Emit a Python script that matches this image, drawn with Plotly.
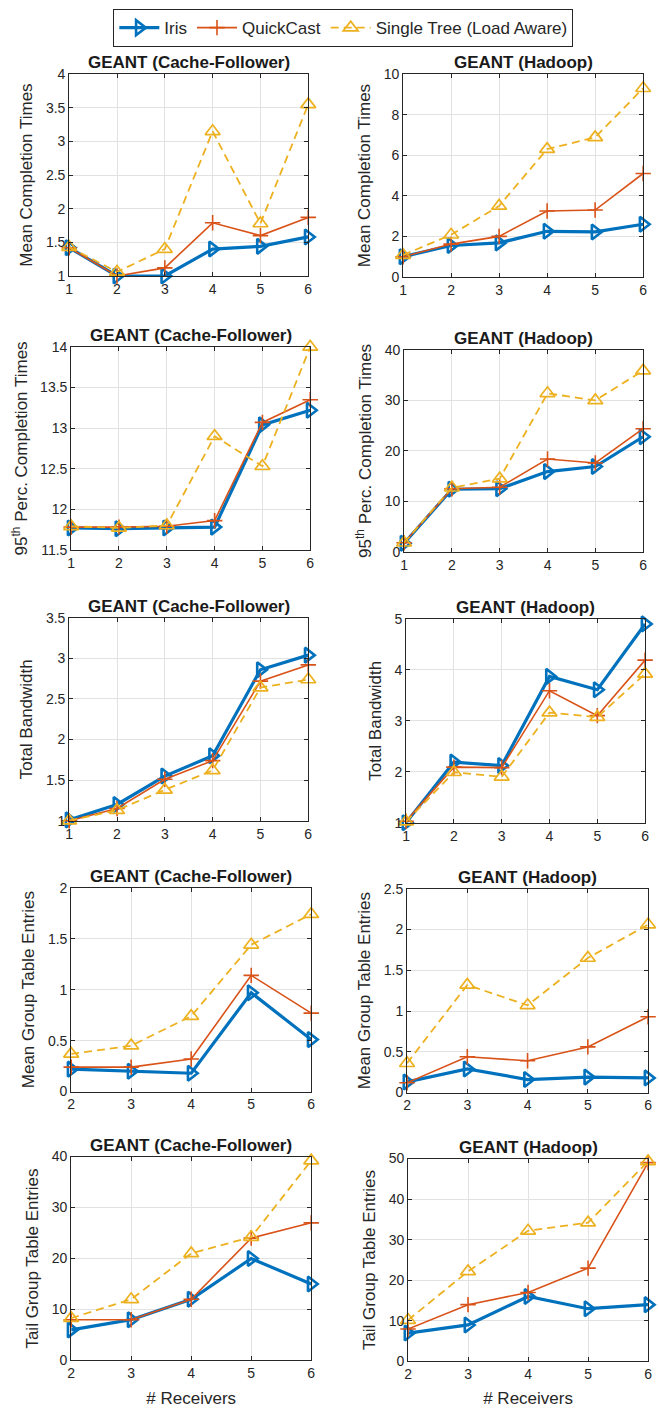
import plotly.graph_objects as go

W, H = 659, 1408

series_names = ["Iris", "QuickCast", "Single Tree (Load Aware)"]

x_rows_123 = [1, 2, 3, 4, 5, 6]
x_rows_45 = [2, 3, 4, 5, 6]

titles = ["GEANT (Cache-Follower)", "GEANT (Hadoop)"]

# Row 1: Mean Completion Times
mct_cf_iris = [1.42, 1.00, 1.00, 1.40, 1.44, 1.58]
mct_cf_qc = [1.42, 1.00, 1.12, 1.79, 1.60, 1.87]
mct_cf_st = [1.43, 1.06, 1.40, 3.15, 1.78, 3.55]
mct_hd_iris = [1.00, 1.55, 1.68, 2.25, 2.22, 2.60]
mct_hd_qc = [1.00, 1.62, 2.00, 3.25, 3.30, 5.10]
mct_hd_st = [1.08, 2.08, 3.50, 6.30, 6.88, 9.30]

# Row 2: 95th Perc. Completion Times
p95_cf_iris = [11.77, 11.76, 11.77, 11.78, 13.04, 13.22]
p95_cf_qc = [11.78, 11.78, 11.79, 11.86, 13.07, 13.35]
p95_cf_st = [11.79, 11.77, 11.80, 12.90, 12.53, 14.00]
p95_hd_iris = [1.7, 12.4, 12.5, 15.9, 16.9, 22.8]
p95_hd_qc = [1.8, 12.5, 12.8, 18.4, 17.6, 24.4]
p95_hd_st = [1.8, 12.7, 14.5, 31.4, 30.0, 35.9]

# Row 3: Total Bandwidth
bw_cf_iris = [1.01, 1.20, 1.55, 1.80, 2.86, 3.04]
bw_cf_qc = [1.00, 1.15, 1.51, 1.74, 2.72, 2.92]
bw_cf_st = [1.00, 1.13, 1.38, 1.62, 2.64, 2.74]
bw_hd_iris = [1.00, 2.19, 2.12, 3.87, 3.61, 4.90]
bw_hd_qc = [1.03, 2.09, 2.08, 3.59, 3.10, 4.19]
bw_hd_st = [1.02, 1.99, 1.90, 3.16, 3.07, 3.92]

# Row 4: Mean Group Table Entries
mg_cf_iris = [0.22, 0.20, 0.18, 0.97, 0.51]
mg_cf_qc = [0.24, 0.24, 0.32, 1.14, 0.77]
mg_cf_st = [0.37, 0.45, 0.74, 1.44, 1.74]
mg_hd_iris = [0.13, 0.29, 0.16, 0.19, 0.18]
mg_hd_qc = [0.12, 0.44, 0.39, 0.56, 0.93]
mg_hd_st = [0.36, 1.32, 1.07, 1.65, 2.06]

# Row 5: Tail Group Table Entries
tg_cf_iris = [6, 8, 12, 20, 15]
tg_cf_qc = [8, 8, 12, 24, 27]
tg_cf_st = [8.3, 12, 21, 24.2, 39.2]
tg_hd_iris = [7, 9, 16, 13, 14]
tg_hd_qc = [8, 14, 17, 23, 49]
tg_hd_st = [10.2, 22.2, 32.2, 34.2, 49.3]

y_titles = ["Mean Completion Times",
            "95<sup>th</sup> Perc. Completion Times",
            "Total Bandwidth",
            "Mean Group Table Entries",
            "Tail Group Table Entries"]

y_ranges = [([1, 4], 0.5, [0, 10], 2),
            ([11.5, 14], 0.5, [0, 40], 10),
            ([1, 3.5], 0.5, [1, 5], 1),
            ([0, 2], 0.5, [0, 2.5], 0.5),
            ([0, 40], 10, [0, 50], 10)]

rows = [
    (x_rows_123, (mct_cf_iris, mct_cf_qc, mct_cf_st), (mct_hd_iris, mct_hd_qc, mct_hd_st)),
    (x_rows_123, (p95_cf_iris, p95_cf_qc, p95_cf_st), (p95_hd_iris, p95_hd_qc, p95_hd_st)),
    (x_rows_123, (bw_cf_iris, bw_cf_qc, bw_cf_st), (bw_hd_iris, bw_hd_qc, bw_hd_st)),
    (x_rows_45, (mg_cf_iris, mg_cf_qc, mg_cf_st), (mg_hd_iris, mg_hd_qc, mg_hd_st)),
    (x_rows_45, (tg_cf_iris, tg_cf_qc, tg_cf_st), (tg_hd_iris, tg_hd_qc, tg_hd_st)),
]

# target pixel boxes (left, right, top, bottom) per subplot
boxes = [
    [(66, 308, 74, 276), (404, 647, 74, 277)],
    [(68, 310, 347, 550), (405, 647, 350, 552)],
    [(66, 308, 618, 821), (407, 649, 619, 823)],
    [(68, 311, 888, 1092), (408, 652, 889, 1093)],
    [(68, 311, 1157, 1361), (409, 652, 1159, 1362)],
]


def ypx(y):
    # compensate for the vertical offset/scale observed in the rendered photo
    return (y - 7.9) / 0.9891


colors = ["#0072BD", "#D95319", "#EDB120"]
styles = [
    dict(line=dict(color=colors[0], width=3.2),
         marker=dict(symbol="triangle-right-open", size=13, color=colors[0], line=dict(width=2.6, color=colors[0]))),
    dict(line=dict(color=colors[1], width=1.6),
         marker=dict(symbol="cross-thin-open", size=11, color=colors[1], line=dict(width=1.6, color=colors[1]))),
    dict(line=dict(color=colors[2], width=1.8, dash="8px,5px"),
         marker=dict(symbol="triangle-up-open", size=13, color=colors[2], line=dict(width=1.7, color=colors[2]))),
]

FONT = "Liberation Sans, Arial, sans-serif"
AX = "#262626"
GRID = "#e2e2e2"

fig = go.Figure()
layout = {}
annotations = []
k = 0
for r, (xs, left, right) in enumerate(rows):
    for c, ys in enumerate((left, right)):
        k += 1
        xa = "x" if k == 1 else f"x{k}"
        ya = "y" if k == 1 else f"y{k}"
        for s in range(3):
            fig.add_trace(go.Scatter(
                x=xs, y=ys[s], mode="lines+markers", name=series_names[s],
                legendgroup=series_names[s], showlegend=(k == 1),
                xaxis=xa, yaxis=ya, cliponaxis=False, **styles[s]))
        l, rr, t, b = boxes[r][c]
        t, b = ypx(t), ypx(b)
        yr, ydt = (y_ranges[r][0], y_ranges[r][1]) if c == 0 else (y_ranges[r][2], y_ranges[r][3])
        common = dict(showline=True, linecolor=AX, linewidth=1, mirror="ticks",
                      ticks="inside", ticklen=4, tickcolor=AX, showgrid=True,
                      gridcolor=GRID, gridwidth=1, zeroline=False,
                      tickfont=dict(family=FONT, size=14, color=AX))
        xkey = "xaxis" if k == 1 else f"xaxis{k}"
        ykey = "yaxis" if k == 1 else f"yaxis{k}"
        xaxis = dict(domain=[l / W, rr / W], anchor=ya, range=[xs[0], xs[-1]],
                     tick0=xs[0], dtick=1, **common)
        if r == 4:
            xaxis["title"] = dict(text="# Receivers", font=dict(family=FONT, size=17, color=AX), standoff=11)
        layout[xkey] = xaxis
        layout[ykey] = dict(domain=[1 - b / H, 1 - t / H], anchor=xa, range=yr,
                            tick0=yr[0], dtick=ydt,
                            title=dict(text=y_titles[r], font=dict(family=FONT, size=17, color=AX), standoff=8),
                            **common)
        annotations.append(dict(text="<b>" + titles[c] + "</b>", xref="paper", yref="paper",
                                x=(l + rr) / 2 / W, y=1 - t / H, xanchor="center", yanchor="bottom",
                                yshift=0, showarrow=False,
                                font=dict(family=FONT, size=17, color="#1a1a1a")))

fig.update_layout(
    width=W, height=H, margin=dict(l=0, r=0, t=0, b=0),
    paper_bgcolor="white", plot_bgcolor="white",
    font=dict(family=FONT, color=AX),
    annotations=annotations,
    legend=dict(orientation="h", x=343.5 / W, xanchor="center", y=1 - ypx(9) / H, yanchor="top",
                bordercolor=AX, borderwidth=1, bgcolor="white",
                font=dict(family=FONT, size=17, color=AX), itemwidth=40,
                tracegroupgap=0, traceorder="normal"),
    **layout,
)

fig.write_html("out.html", config={"displayModeBar": False},
               post_script="var gd=document.getElementById('{plot_id}');"
                           "gd.style.position='fixed';gd.style.top='0px';gd.style.left='0px';"
                           "document.body.style.margin='0';document.body.style.padding='0';"
                           "document.documentElement.style.overflow='hidden';document.body.style.overflow='hidden';")
